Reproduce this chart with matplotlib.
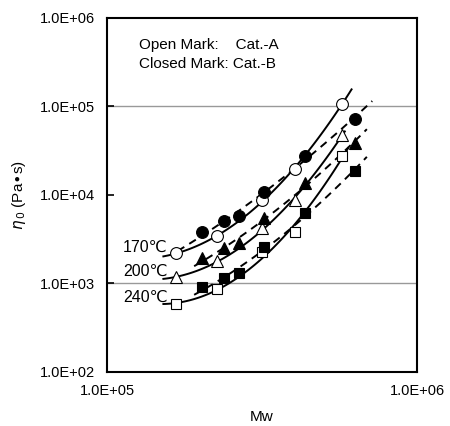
import matplotlib
matplotlib.use('Agg')
import matplotlib.pyplot as plt
import numpy as np

plt.rcParams['font.family'] = ['Liberation Sans', 'DejaVu Sans']

# Cat.-A (open marks), Mw and zero-shear viscosity
mw_a = [1.67e5, 2.26e5, 3.16e5, 4.04e5, 5.73e5]
eta_a_170 = [2.19e3, 3.41e3, 8.67e3, 1.99e4, 1.07e5]
eta_a_200 = [1.17e3, 1.78e3, 4.20e3, 8.67e3, 4.81e4]
eta_a_240 = [5.83e2, 8.61e2, 2.25e3, 3.78e3, 2.79e4]

# Cat.-B (closed marks)
mw_b = [2.03e5, 2.39e5, 2.67e5, 3.21e5, 4.35e5, 6.31e5]
eta_b_170 = [3.78e3, 5.03e3, 5.72e3, 1.09e4, 2.79e4, 7.28e4]
eta_b_200 = [1.93e3, 2.50e3, 2.84e3, 5.44e3, 1.38e4, 3.91e4]
eta_b_240 = [9.08e2, 1.15e3, 1.30e3, 2.56e3, 6.19e3, 1.89e4]

# fitted line extents (Mw)
solid_ranges = [(1.52e5, 6.15e5), (1.52e5, 5.85e5), (1.52e5, 6.0e5)]
dashed_ranges = [(1.69e5, 7.17e5), (1.91e5, 6.89e5), (1.91e5, 6.89e5)]

temps = ["170\u2103", "200\u2103", "240\u2103"]
label_y = [2.56e3, 1.37e3, 7.0e2]
markers = ["o", "^", "s"]
grid_levels = [1e3, 1e5]

fig = plt.figure(figsize=(4.5, 4.26), dpi=100)
ax = fig.add_axes([0.2378, 0.1268, 0.6889, 0.831])
ax.set_xscale('log')
ax.set_yscale('log')
ax.set_xlim(1e5, 1e6)
ax.set_ylim(1e2, 1e6)

for g in grid_levels:
    ax.axhline(g, color='#999999', lw=1.0, zorder=0)


def fit_line(x, y, rng):
    lx, ly = np.log10(x), np.log10(y)
    p = np.polyfit(lx, ly, 2)
    xs = np.linspace(np.log10(rng[0]), np.log10(rng[1]), 100)
    return 10 ** xs, 10 ** np.polyval(p, xs)


series_a = [eta_a_170, eta_a_200, eta_a_240]
series_b = [eta_b_170, eta_b_200, eta_b_240]
for i in range(3):
    xs, ys = fit_line(mw_a, series_a[i], solid_ranges[i])
    ax.plot(xs, ys, color='black', lw=1.4, zorder=2)
    xs, ys = fit_line(mw_b, series_b[i], dashed_ranges[i])
    ax.plot(xs, ys, color='black', lw=1.4, ls=(0, (4, 3)), zorder=2)
    ms = 8.5 if markers[i] != 's' else 7.5
    ax.plot(mw_a, series_a[i], ls='none', marker=markers[i], ms=ms,
            mfc='white', mec='black', mew=0.8, zorder=3)
    ax.plot(mw_b, series_b[i], ls='none', marker=markers[i], ms=ms,
            mfc='black', mec='black', mew=0.8, zorder=3)

# temperature labels
for t, ly in zip(temps, label_y):
    ax.text(1.126e5, ly, t, fontsize=11.5, va='center', ha='left')

ax.text(0.103, 0.925, "Open Mark:    Cat.-A", transform=ax.transAxes, fontsize=11, va='center')
ax.text(0.103, 0.870, "Closed Mark: Cat.-B", transform=ax.transAxes, fontsize=11, va='center')

ax.set_yticks([1e2, 1e3, 1e4, 1e5, 1e6])
ax.set_yticklabels(["1.0E+02", "1.0E+03", "1.0E+04", "1.0E+05", "1.0E+06"], fontsize=10.5)
ax.set_xticks([1e5, 1e6])
ax.set_xticklabels(["1.0E+05", "1.0E+06"], fontsize=10.5)
ax.minorticks_off()
ax.tick_params(axis='y', direction='in', length=5, width=1.2, pad=9)
ax.tick_params(axis='x', length=0, pad=9)

for s in ax.spines.values():
    s.set_linewidth(1.5)

ax.set_xlabel("Mw", fontsize=11, labelpad=8)
ax.set_ylabel(r"$\eta_{\,0}$ (Pa$\bullet$s)", fontsize=11, labelpad=8)

fig.savefig("out.png", dpi=100)
